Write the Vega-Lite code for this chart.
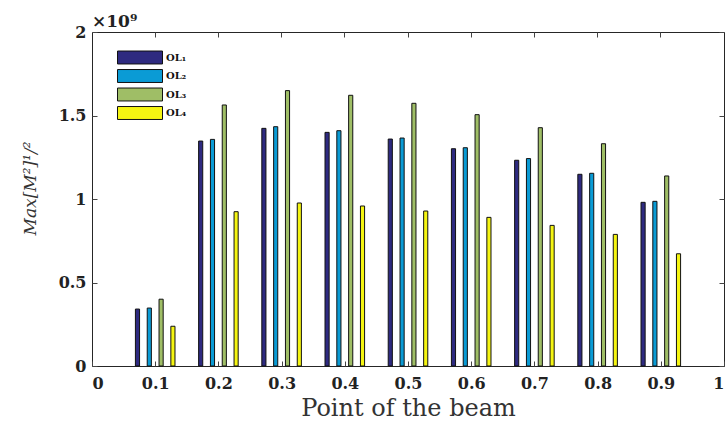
{
  "$schema": "https://vega.github.io/schema/vega-lite/v6.json",
  "width": 632,
  "height": 334,
  "autosize": "none",
  "padding": {"left": 92, "top": 32, "right": 4, "bottom": 62},
  "background": "white",
  "title": {
    "text": "×10⁹",
    "anchor": "start",
    "frame": "group",
    "offset": -7,
    "font": "DejaVu Serif",
    "fontWeight": "bold",
    "fontSize": 17,
    "color": "#222222"
  },
  "config": {
    "view": {"stroke": "#262626", "strokeWidth": 1},
    "axis": {
      "grid": false,
      "domain": false,
      "ticks": true,
      "tickColor": "#444444",
      "tickWidth": 1,
      "tickSize": 5,
      "offset": -5,
      "labelFont": "DejaVu Serif",
      "labelFontWeight": "bold",
      "labelFontSize": 16,
      "labelColor": "#222222",
      "titleFont": "DejaVu Serif",
      "titleFontWeight": "normal",
      "titleColor": "#333333"
    }
  },
  "data": {
    "values": [
      {"point": 0.1, "series": "OL₁", "value": 341000000},
      {"point": 0.1, "series": "OL₂", "value": 347000000},
      {"point": 0.1, "series": "OL₃", "value": 400000000},
      {"point": 0.1, "series": "OL₄", "value": 238000000},
      {"point": 0.2, "series": "OL₁", "value": 1347000000},
      {"point": 0.2, "series": "OL₂", "value": 1357000000},
      {"point": 0.2, "series": "OL₃", "value": 1563000000},
      {"point": 0.2, "series": "OL₄", "value": 924000000},
      {"point": 0.3, "series": "OL₁", "value": 1423000000},
      {"point": 0.3, "series": "OL₂", "value": 1433000000},
      {"point": 0.3, "series": "OL₃", "value": 1649000000},
      {"point": 0.3, "series": "OL₄", "value": 976000000},
      {"point": 0.4, "series": "OL₁", "value": 1399000000},
      {"point": 0.4, "series": "OL₂", "value": 1409000000},
      {"point": 0.4, "series": "OL₃", "value": 1621000000},
      {"point": 0.4, "series": "OL₄", "value": 958000000},
      {"point": 0.5, "series": "OL₁", "value": 1359000000},
      {"point": 0.5, "series": "OL₂", "value": 1365000000},
      {"point": 0.5, "series": "OL₃", "value": 1573000000},
      {"point": 0.5, "series": "OL₄", "value": 928000000},
      {"point": 0.6, "series": "OL₁", "value": 1301000000},
      {"point": 0.6, "series": "OL₂", "value": 1307000000},
      {"point": 0.6, "series": "OL₃", "value": 1505000000},
      {"point": 0.6, "series": "OL₄", "value": 890000000},
      {"point": 0.7, "series": "OL₁", "value": 1232000000},
      {"point": 0.7, "series": "OL₂", "value": 1242000000},
      {"point": 0.7, "series": "OL₃", "value": 1427000000},
      {"point": 0.7, "series": "OL₄", "value": 842000000},
      {"point": 0.8, "series": "OL₁", "value": 1148000000},
      {"point": 0.8, "series": "OL₂", "value": 1154000000},
      {"point": 0.8, "series": "OL₃", "value": 1331000000},
      {"point": 0.8, "series": "OL₄", "value": 788000000},
      {"point": 0.9, "series": "OL₁", "value": 980000000},
      {"point": 0.9, "series": "OL₂", "value": 986000000},
      {"point": 0.9, "series": "OL₃", "value": 1138000000},
      {"point": 0.9, "series": "OL₄", "value": 672000000}
    ]
  },
  "resolve": {
    "scale": {"x": "independent"},
    "axis": {"x": "independent", "y": "independent"}
  },
  "layer": [
    {
      "mark": {"type": "bar", "stroke": "#111111", "strokeWidth": 1},
      "encoding": {
        "x": {
          "field": "point",
          "type": "ordinal",
          "scale": {"paddingInner": 0, "paddingOuter": 0.5},
          "axis": {
            "orient": "top",
            "labels": false,
            "title": null,
            "ticks": true,
            "bandPosition": 0.5
          }
        },
        "xOffset": {
          "field": "series",
          "type": "nominal",
          "scale": {"paddingInner": 0.65, "paddingOuter": 1.12}
        },
        "y": {
          "field": "value",
          "type": "quantitative",
          "scale": {"domain": [0, 2000000000], "nice": false, "zero": true},
          "axis": {
            "orient": "left",
            "values": [0, 500000000, 1000000000, 1500000000, 2000000000],
            "labelExpr": "format(datum.value / 1000000000, '~g')",
            "labelPadding": 6,
            "ticks": true,
            "title": "Max[M²]¹/²",
            "titleFont": "DejaVu Serif",
            "titleFontStyle": "italic",
            "titleFontSize": 17,
            "titleX": -58,
            "titleY": 156,
            "titleColor": "#333333"
          }
        },
        "color": {
          "field": "series",
          "type": "nominal",
          "scale": {
            "domain": ["OL₁", "OL₂", "OL₃", "OL₄"],
            "range": ["#2e2a80", "#0a9bd5", "#9fbe66", "#f5f512"]
          },
          "legend": {
            "orient": "none",
            "legendX": 38.5,
            "legendY": 16,
            "title": null,
            "symbolType": "M-2.5,-0.72L2.5,-0.72L2.5,0.72L-2.5,0.72Z",
            "symbolSize": 324,
            "symbolStrokeColor": "#111111",
            "symbolStrokeWidth": 1,
            "symbolOpacity": 1,
            "labelFont": "DejaVu Serif",
            "labelFontWeight": "bold",
            "labelFontSize": 10,
            "labelColor": "#111111",
            "labelOffset": 16.5,
            "rowPadding": 0.5
          }
        }
      }
    },
    {
      "mark": {"type": "point", "opacity": 0},
      "encoding": {
        "x": {
          "field": "point",
          "type": "quantitative",
          "scale": {"domain": [0, 1], "nice": false},
          "axis": {
            "orient": "bottom",
            "values": [0, 0.1, 0.2, 0.3, 0.4, 0.5, 0.6, 0.7, 0.8, 0.9, 1],
            "labelExpr": "format(datum.value, '~g')",
            "labelPadding": 9,
            "ticks": true,
            "title": "Point of the beam",
            "titleFontSize": 24,
            "titlePadding": 5
          }
        },
        "y": {
          "field": "value",
          "type": "quantitative",
          "axis": {
            "orient": "right",
            "values": [0, 500000000, 1000000000, 1500000000, 2000000000],
            "labels": false,
            "ticks": true,
            "title": null
          }
        }
      }
    }
  ]
}
